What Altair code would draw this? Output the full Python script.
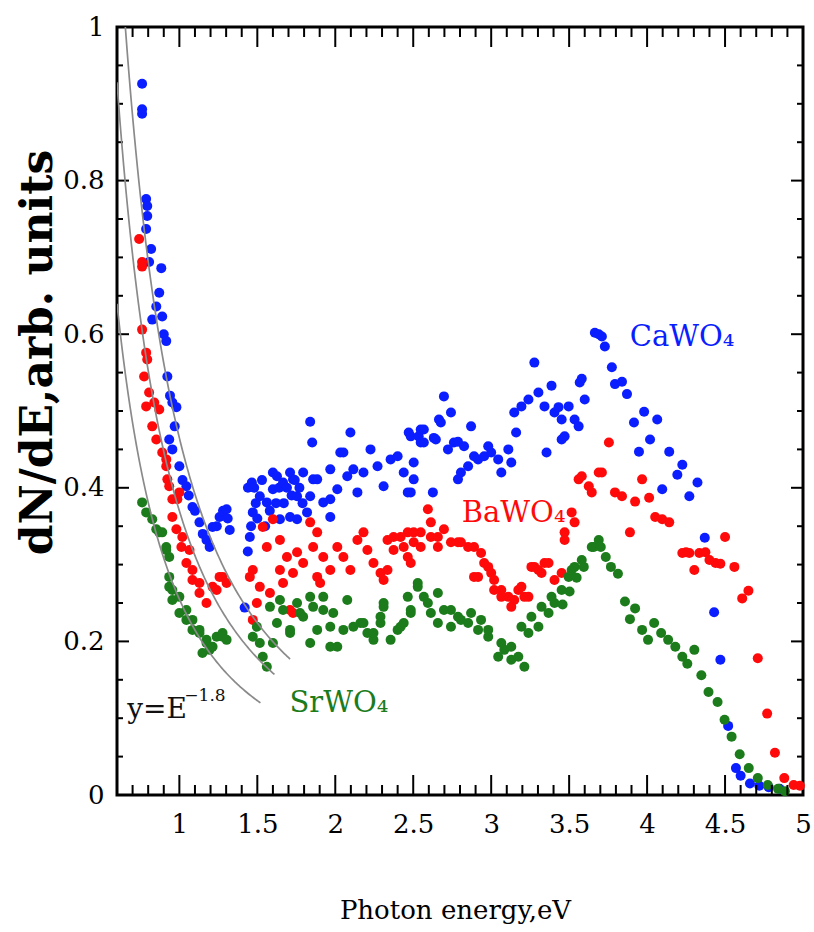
import numpy as np
import pandas as pd
import altair as alt

# ---------------- data ----------------
CA = [(0.761,0.926),(0.761,0.893),(0.761,0.887),(0.787,0.776),(0.794,0.767),(0.794,0.754),
      (0.787,0.737),(0.819,0.711),(0.806,0.694),(0.884,0.686),(0.871,0.654),(0.852,0.636),
      (0.890,0.623),(0.826,0.619),(0.900,0.600),(0.916,0.591),(0.923,0.545),(0.940,0.520),
      (0.955,0.511),(0.981,0.505),(0.935,0.463),(0.955,0.450),(0.970,0.480),(1.000,0.428),
      (1.020,0.410),(1.045,0.402),(1.060,0.390),(1.084,0.375),(1.100,0.370),(1.129,0.355),
      (1.150,0.340),(1.174,0.332),(1.194,0.323),(1.213,0.349),(1.240,0.350),(1.258,0.362),
      (1.280,0.370),(1.303,0.372),(1.323,0.345),(1.310,0.360),
      (1.419,0.244),(1.440,0.400),(1.439,0.317),(1.452,0.336),(1.460,0.350),(1.465,0.407),
      (1.471,0.368),(1.480,0.400),(1.490,0.380),(1.500,0.360),(1.516,0.389),(1.530,0.410),
      (1.550,0.350),(1.561,0.381),(1.580,0.370),(1.600,0.398),(1.600,0.420),(1.620,0.380),
      (1.626,0.415),(1.640,0.400),(1.645,0.359),(1.665,0.407),(1.670,0.380),(1.690,0.400),
      (1.710,0.420),(1.710,0.362),(1.720,0.390),(1.729,0.411),(1.740,0.410),(1.755,0.389),
      (1.755,0.359),(1.770,0.400),(1.790,0.380),(1.794,0.420),(1.819,0.368),(1.839,0.389),
      (1.839,0.486),(1.852,0.459),(1.858,0.411),(1.884,0.411),(1.923,0.381),(1.968,0.424),
      (1.968,0.362),(1.968,0.385),(2.013,0.398),(2.032,0.446),(2.052,0.446),(2.077,0.415),
      (2.097,0.472),(2.116,0.424),(2.142,0.394),(2.181,0.420),(2.226,0.450),(2.271,0.428),
      (2.310,0.402),(2.355,0.437),(2.400,0.441),(2.439,0.420),(2.465,0.394),(2.471,0.472),
      (2.484,0.394),(2.484,0.467),(2.503,0.433),(2.503,0.411),(2.535,0.467),(2.548,0.459),
      (2.548,0.476),(2.568,0.476),(2.568,0.459),(2.626,0.394),(2.632,0.465),(2.645,0.463),
      (2.665,0.489),(2.677,0.485),(2.697,0.519),(2.723,0.450),(2.742,0.498),(2.761,0.459),
      (2.787,0.411),(2.787,0.460),(2.806,0.420),(2.826,0.454),(2.852,0.428),(2.871,0.480),
      (2.890,0.441),(2.916,0.437),(2.955,0.441),(2.981,0.454),(3.000,0.446),(3.045,0.437),
      (3.065,0.420),(3.110,0.450),(3.129,0.433),(3.148,0.498),(3.160,0.472),(3.194,0.506),
      (3.239,0.515),(3.277,0.563),(3.303,0.524),(3.342,0.506),(3.355,0.446),(3.387,0.533),
      (3.406,0.498),(3.432,0.505),(3.452,0.463),(3.452,0.489),(3.471,0.467),(3.497,0.506),
      (3.535,0.489),(3.561,0.480),(3.568,0.537),(3.581,0.542),(3.600,0.515),(3.665,0.602),
      (3.690,0.600),(3.710,0.597),(3.729,0.584),(3.774,0.557),(3.794,0.535),(3.839,0.538),
      (3.871,0.522),(3.916,0.485),(3.981,0.499),(3.948,0.447),(4.019,0.463),(4.065,0.489),
      (4.097,0.398),(4.142,0.447),(4.194,0.417),(4.226,0.430),(4.271,0.389),(4.323,0.407),
      (4.370,0.335),(4.430,0.238),(4.470,0.176),(4.520,0.090),(4.570,0.035),(4.600,0.025),
      (4.660,0.015),(4.720,0.012),(4.780,0.010),(4.850,0.008)]

BA = [(0.742,0.724),(0.761,0.694),(0.761,0.688),(0.761,0.606),(0.774,0.545),(0.787,0.576),
      (0.794,0.567),(0.787,0.506),(0.806,0.524),(0.826,0.480),(0.839,0.511),(0.852,0.463),
      (0.871,0.502),(0.890,0.446),(0.916,0.428),(0.916,0.437),(0.923,0.411),(0.935,0.402),
      (0.955,0.385),(0.955,0.362),(0.981,0.346),(0.987,0.385),(1.000,0.394),(1.013,0.323),
      (1.019,0.336),(1.045,0.302),(1.065,0.319),(1.084,0.280),(1.084,0.293),(1.129,0.263),
      (1.129,0.276),(1.174,0.250),(1.213,0.271),(1.239,0.267),(1.258,0.284),(1.277,0.284),
      (1.303,0.276),
      (1.452,0.284),(1.471,0.293),(1.471,0.228),(1.497,0.250),(1.516,0.271),(1.535,0.349),
      (1.561,0.323),(1.581,0.263),(1.600,0.359),(1.645,0.332),(1.645,0.293),(1.665,0.276),
      (1.690,0.310),(1.710,0.241),(1.729,0.289),(1.729,0.237),(1.755,0.316),(1.794,0.302),
      (1.839,0.355),(1.858,0.323),(1.884,0.342),(1.884,0.284),(1.903,0.276),(1.923,0.310),
      (1.968,0.293),(2.013,0.323),(2.052,0.310),(2.097,0.293),(2.142,0.332),(2.181,0.342),
      (2.206,0.319),(2.245,0.302),(2.290,0.289),(2.310,0.280),(2.335,0.332),(2.335,0.293),
      (2.374,0.319),(2.374,0.336),(2.419,0.336),(2.439,0.323),(2.465,0.310),(2.465,0.342),
      (2.484,0.302),(2.503,0.342),(2.503,0.329),(2.548,0.323),(2.548,0.342),(2.594,0.372),
      (2.613,0.355),(2.613,0.336),(2.658,0.336),(2.658,0.323),(2.697,0.346),(2.742,0.329),
      (2.787,0.329),(2.806,0.329),(2.852,0.323),(2.890,0.323),(2.890,0.284),(2.916,0.284),
      (2.935,0.315),(2.955,0.302),(2.981,0.297),(3.000,0.289),(3.019,0.280),(3.019,0.267),
      (3.065,0.267),(3.065,0.258),(3.110,0.258),(3.129,0.245),(3.148,0.254),(3.174,0.267),
      (3.194,0.271),(3.213,0.258),(3.239,0.258),(3.258,0.297),(3.277,0.297),(3.303,0.293),
      (3.323,0.289),(3.342,0.302),(3.368,0.302),(3.406,0.280),(3.452,0.289),(3.471,0.342),
      (3.471,0.332),(3.516,0.368),(3.535,0.355),(3.561,0.411),(3.581,0.415),(3.626,0.402),
      (3.645,0.394),(3.690,0.420),(3.710,0.420),(3.755,0.459),(3.794,0.394),(3.839,0.389),
      (3.890,0.342),(3.923,0.382),(3.968,0.411),(4.013,0.387),(4.052,0.362),(4.097,0.359),
      (4.142,0.355),(4.226,0.315),(4.250,0.316),(4.271,0.315),(4.303,0.293),(4.335,0.315),
      (4.374,0.316),(4.400,0.306),(4.439,0.302),(4.470,0.301),(4.500,0.336),(4.560,0.297),
      (4.610,0.256),(4.650,0.266),(4.710,0.178),(4.770,0.106),(4.820,0.055),(4.880,0.022),
      (4.940,0.013),(4.980,0.012)]

SR = [(0.761,0.381),(0.787,0.368),(0.826,0.359),(0.852,0.346),(0.871,0.342),(0.890,0.342),
      (0.916,0.323),(0.916,0.319),(0.935,0.310),(0.935,0.284),(0.935,0.271),(0.955,0.267),
      (0.955,0.254),(1.000,0.258),(1.000,0.237),(1.045,0.241),(1.045,0.228),(1.084,0.228),
      (1.084,0.215),(1.129,0.215),(1.129,0.211),(1.148,0.185),(1.174,0.202),(1.174,0.198),
      (1.194,0.189),(1.213,0.193),(1.239,0.206),(1.277,0.211),(1.277,0.206),(1.303,0.202),
      (1.471,0.206),(1.497,0.219),(1.516,0.198),(1.535,0.180),(1.561,0.167),(1.581,0.245),
      (1.600,0.198),(1.626,0.224),(1.645,0.254),(1.665,0.241),(1.710,0.215),(1.710,0.211),
      (1.755,0.250),(1.774,0.237),(1.794,0.232),(1.839,0.258),(1.839,0.198),(1.858,0.245),
      (1.884,0.215),(1.923,0.241),(1.923,0.258),(1.968,0.219),(1.968,0.193),(1.987,0.237),
      (2.013,0.193),(2.052,0.215),(2.077,0.254),(2.116,0.219),(2.161,0.224),(2.181,0.224),
      (2.206,0.211),(2.245,0.202),(2.245,0.211),(2.290,0.224),(2.290,0.232),(2.310,0.250),
      (2.310,0.245),(2.355,0.202),(2.400,0.215),(2.419,0.219),(2.439,0.224),(2.465,0.258),
      (2.484,0.241),(2.484,0.237),(2.529,0.271),(2.529,0.276),(2.568,0.258),(2.594,0.250),
      (2.613,0.237),(2.658,0.224),(2.658,0.263),(2.697,0.241),(2.742,0.219),(2.742,0.241),
      (2.787,0.232),(2.806,0.228),(2.852,0.224),(2.871,0.237),(2.916,0.215),(2.935,0.228),
      (2.981,0.206),(2.981,0.215),(3.045,0.180),(3.065,0.198),(3.084,0.189),(3.129,0.176),
      (3.129,0.193),(3.174,0.180),(3.194,0.219),(3.213,0.167),(3.239,0.211),(3.258,0.232),
      (3.303,0.219),(3.323,0.245),(3.368,0.237),(3.387,0.258),(3.406,0.250),(3.452,0.267),
      (3.458,0.248),(3.497,0.284),(3.503,0.265),(3.516,0.293),(3.535,0.297),(3.548,0.283),
      (3.581,0.306),(3.594,0.297),(3.645,0.323),(3.658,0.323),(3.690,0.332),(3.703,0.323),
      (3.735,0.310),(3.768,0.297),(3.813,0.288),(3.858,0.252),(3.890,0.229),(3.923,0.243),
      (3.968,0.215),(4.006,0.202),(4.045,0.224),(4.090,0.211),(4.135,0.202),(4.181,0.193),
      (4.226,0.180),(4.258,0.171),(4.303,0.189),(4.348,0.156),(4.394,0.134),(4.452,0.121),
      (4.497,0.098),(4.542,0.076),(4.594,0.053),(4.652,0.035),(4.710,0.022),(4.774,0.013),
      (4.840,0.008),(4.884,0.005)]

SERIES = ["CaWO4", "BaWO4", "SrWO4"]
COLORS = ["#0a1eff", "#ff0a0a", "#1c7c1c"]

# power-law guides y = a * E^-1.8
EXPONENT = -1.8
CURVE_A = [0.465, 0.37, 0.255]
CURVE_END = [1.71, 1.61, 1.52]

# labels: text, E, y, color, size
LABELS = [("CaWO\u2084", 3.889, 0.584, "#0a1eff", 29),
          ("BaWO\u2084", 2.811, 0.355, "#ff0a0a", 29),
          ("SrWO\u2084", 1.706, 0.108, "#1c7c1c", 29),
          ("y=E", 0.666, 0.100, "#111111", 28),
          ("\u22121.8", 1.032, 0.123, "#111111", 17)]

X_LABELS = [1, 1.5, 2, 2.5, 3, 3.5, 4, 4.5, 5]
Y_LABELS = [0, 0.2, 0.4, 0.6, 0.8, 1]
X_MAJOR = [1.0, 1.5, 2.0, 2.5, 3.0, 3.5, 4.0, 4.5]
X_MINOR = [round(0.7 + 0.1 * i, 2) for i in range(43) if round((0.7 + 0.1 * i) * 10) % 5 != 0]
Y_MAJOR = [0.2, 0.4, 0.6, 0.8]
Y_MINOR = [round(0.05 * i, 2) for i in range(1, 20) if i % 4 != 0]

# ---------------- build ----------------
W, H = 686, 768
FONT = "DejaVu Serif"

pts = pd.DataFrame([{"E": e, "v": v, "s": name, "k": k}
                    for k, (name, arr) in enumerate(zip(SERIES, [CA, BA, SR])) for e, v in arr])

crv_rows = []
for i, (a, end) in enumerate(zip(CURVE_A, CURVE_END)):
    for e in np.linspace(0.6, end, 120):
        crv_rows.append({"E": float(e), "v": float(a * e ** EXPONENT), "c": f"c{i}"})
crv = pd.DataFrame(crv_rows)

lab = pd.DataFrame([{"t": t, "E": e, "v": v, "col": c, "fs": fs} for t, e, v, c, fs in LABELS])

xs = alt.Scale(domain=[0.6, 5], nice=False, zero=False)
ys = alt.Scale(domain=[0, 1], nice=False, zero=False)

X_AXIS = alt.Axis(
    values=X_LABELS, format="~g", ticks=False, domain=False, grid=False,
    labelFont=FONT, labelFontSize=26, labelColor="black", labelPadding=16,
    labelFlush=False, labelOverlap=False,
    title="Photon energy,eV", titleFont=FONT, titleFontSize=26,
    titleFontWeight="normal", titleColor="black",
    titleX=338, titleY=123, titleBaseline="alphabetic", titleAlign="center")
Y_AXIS = alt.Axis(
    values=Y_LABELS, format="~g", ticks=False, domain=False, grid=False,
    labelFont=FONT, labelFontSize=26, labelColor="black", labelPadding=13,
    labelFlush=False, labelOverlap=False,
    title="dN/dE,arb. units", titleFont=FONT, titleFontSize=44,
    titleFontWeight="bold", titleColor="black", titleAngle=-90,
    titleX=-79, titleY=325, titleAlign="center", titleBaseline="middle")


def X(field):
    return alt.X(field, scale=xs, axis=X_AXIS, title="Photon energy,eV")


def Y(field):
    return alt.Y(field, scale=ys, axis=Y_AXIS, title="dN/dE,arb. units")


points = alt.Chart(pts).mark_circle(size=100, opacity=1).encode(
    x=X("E:Q"),
    y=Y("v:Q"),
    color=alt.Color("s:N", scale=alt.Scale(domain=SERIES, range=COLORS), legend=None),
    order=alt.Order("k:Q"),
)

curves = alt.Chart(crv).mark_line(color="#8a8a8a", strokeWidth=1.7, clip=True).encode(
    x=X("E:Q"),
    y=Y("v:Q"),
    detail="c:N",
)

texts = alt.Chart(lab).mark_text(align="left", baseline="alphabetic", font=FONT).encode(
    x=X("E:Q"),
    y=Y("v:Q"),
    text="t:N",
    color=alt.Color("col:N", scale=None),
    size=alt.Size("fs:Q", scale=None),
)


def xticks(vals, L):
    base = alt.Chart(pd.DataFrame({"E": vals}))
    bottom = base.mark_rule(color="black", strokeWidth=2).encode(
        x=X("E:Q"), y=alt.value(H), y2=alt.value(H - L))
    top = base.mark_rule(color="black", strokeWidth=2).encode(
        x=X("E:Q"), y=alt.value(0), y2=alt.value(L))
    return [bottom, top]


def yticks(vals, L):
    base = alt.Chart(pd.DataFrame({"v": vals}))
    left = base.mark_rule(color="black", strokeWidth=2).encode(
        y=Y("v:Q"), x=alt.value(0), x2=alt.value(L))
    right = base.mark_rule(color="black", strokeWidth=2).encode(
        y=Y("v:Q"), x=alt.value(W), x2=alt.value(W - L))
    return [left, right]


layers = [points] + xticks(X_MAJOR, 20) + xticks(X_MINOR, 10) \
    + yticks(Y_MAJOR, 12) + yticks(Y_MINOR, 6) + [curves, texts]

chart = alt.layer(*layers).properties(
    width=W, height=H,
    autosize=alt.AutoSizeParams(type="none"),
    padding={"left": 117, "top": 27, "right": 11, "bottom": 137},
    background="white",
).configure_view(stroke="black", strokeWidth=3)

chart.save("out.html", embed_options={"renderer": "svg", "actions": False})
